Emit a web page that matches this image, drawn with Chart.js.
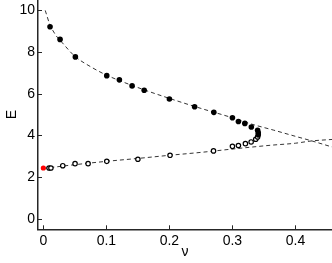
<!DOCTYPE html>
<html>
<head>
<meta charset="utf-8">
<script src="https://cdn.jsdelivr.net/npm/chart.js@4"></script>
<style>
  html, body { margin: 0; padding: 0; background: #fff; }
  #wrap { width: 332px; height: 263px; }
</style>
</head>
<body>
<div id="wrap"><canvas id="myChart"></canvas></div>
<script>
// upper branch (filled dots)
const nuUpper = [0.0106, 0.0265, 0.0508, 0.1006, 0.1206, 0.1408, 0.160, 0.200, 0.240, 0.2705, 0.300, 0.3095, 0.3197, 0.330, 0.340, 0.341, 0.341];
const eUpper = [9.22, 8.61, 7.77, 6.87, 6.67, 6.38, 6.17, 5.75, 5.38, 5.11, 4.85, 4.67, 4.58, 4.41, 4.25, 4.13, 4.03];

// lower branch (open circles)
const nuLower = [0.009, 0.012, 0.0308, 0.0503, 0.071, 0.1006, 0.150, 0.201, 0.270, 0.300, 0.3095, 0.3206, 0.3297, 0.337, 0.340];
const eLower = [2.44, 2.44, 2.55, 2.65, 2.65, 2.76, 2.86, 3.05, 3.26, 3.48, 3.52, 3.61, 3.69, 3.82, 3.93];

// red start point
const nuStart = [0];
const eStart = [2.44];

// dashed fit curves
const nuFitUpper = [0.003, 0.01, 0.02, 0.03, 0.05, 0.075, 0.10, 0.15, 0.20, 0.25, 0.30, 0.33, 0.365, 0.40, 0.426, 0.458];
const eFitUpper = [10.0, 9.35, 8.8, 8.45, 7.8, 7.3, 6.9, 6.3, 5.78, 5.3, 4.85, 4.55, 4.26, 3.96, 3.74, 3.45];
const nuFitLower = [0, 0.05, 0.10, 0.15, 0.20, 0.25, 0.30, 0.36, 0.40, 0.426, 0.458];
const eFitLower = [2.42, 2.6, 2.76, 2.9, 3.05, 3.19, 3.35, 3.53, 3.63, 3.74, 3.81];

const xTicks = [0, 0.1, 0.2, 0.3, 0.4];
const yTicks = [0, 2, 4, 6, 8, 10];

const pts = (xs, ys) => xs.map((x, i) => ({x: x, y: ys[i]}));

const axisColor = '#262626';
const font = {family: 'Liberation Sans, Arial, sans-serif', size: 14};

// MATLAB style inward tick marks
const inwardTicks = {
  id: 'inwardTicks',
  afterDatasetsDraw(chart) {
    const c = chart.ctx;
    const xs = chart.scales.x, ys = chart.scales.y;
    const area = chart.chartArea;
    c.save();
    c.strokeStyle = axisColor;
    c.lineWidth = 1;
    xTicks.forEach(v => {
      const px = Math.round(xs.getPixelForValue(v)) + 0.5;
      c.beginPath();
      c.moveTo(px, area.bottom);
      c.lineTo(px, area.bottom - 4);
      c.stroke();
    });
    yTicks.forEach(v => {
      const py = Math.round(ys.getPixelForValue(v)) + 0.5;
      c.beginPath();
      c.moveTo(area.left, py);
      c.lineTo(area.left + 4, py);
      c.stroke();
    });
    c.restore();
  }
};

// no extra room for the outer tick labels
const noPad = s => {
  s.paddingTop = 0; s.paddingBottom = 0;
  s.paddingLeft = 0; s.paddingRight = 0;
};

const data = {
  datasets: [
    {
      label: 'start',
      data: pts(nuStart, eStart),
      showLine: false,
      pointRadius: 2.6,
      pointBackgroundColor: '#ff0000',
      pointBorderColor: '#ff0000',
      pointBorderWidth: 0,
      order: 0
    },
    {
      label: 'upper',
      data: pts(nuUpper, eUpper),
      showLine: false,
      pointRadius: 2.8,
      pointBackgroundColor: '#000',
      pointBorderColor: '#000',
      pointBorderWidth: 0,
      order: 1
    },
    {
      label: 'lower',
      data: pts(nuLower, eLower),
      showLine: false,
      pointRadius: 2.2,
      pointBackgroundColor: '#fff',
      pointBorderColor: '#000',
      pointBorderWidth: 1.2,
      order: 1
    },
    {
      label: 'fit upper',
      data: pts(nuFitUpper, eFitUpper),
      showLine: true,
      pointRadius: 0,
      borderColor: '#000',
      borderWidth: 0.8,
      borderDash: [4, 3],
      cubicInterpolationMode: 'monotone',
      order: 2
    },
    {
      label: 'fit lower',
      data: pts(nuFitLower, eFitLower),
      showLine: true,
      pointRadius: 0,
      borderColor: '#000',
      borderWidth: 0.8,
      borderDash: [4, 3],
      cubicInterpolationMode: 'monotone',
      order: 2
    }
  ]
};

const config = {
  type: 'scatter',
  data: data,
  options: {
    responsive: true,
    maintainAspectRatio: false,
    animation: false,
    layout: {padding: 0, autoPadding: false},
    plugins: {
      legend: {display: false},
      tooltip: {enabled: false}
    },
    scales: {
      x: {
        type: 'linear',
        min: -0.0085,
        max: 0.458,
        afterBuildTicks: s => { s.ticks = xTicks.map(v => ({value: v})); },
        afterFit: s => { s.height = 33.7; noPad(s); },
        grid: {display: false, drawTicks: false},
        border: {display: true, color: axisColor, width: 1.5},
        ticks: {
          color: '#000',
          font: font,
          padding: 3,
          maxRotation: 0,
          callback: v => String(v)
        },
        title: {
          display: true,
          text: 'ν',
          color: '#000',
          font: font,
          padding: {top: 0, bottom: 2}
        }
      },
      y: {
        type: 'linear',
        min: -0.5,
        max: 10.5,
        afterBuildTicks: s => { s.ticks = yTicks.map(v => ({value: v})); },
        afterFit: s => { s.width = 38; noPad(s); },
        grid: {display: false, drawTicks: false},
        border: {display: true, color: axisColor, width: 1.5},
        ticks: {
          color: '#000',
          font: font,
          padding: 3,
          callback: v => String(v)
        },
        title: {
          display: true,
          text: 'E',
          color: '#000',
          font: font,
          padding: {top: 4, bottom: 0}
        }
      }
    }
  },
  plugins: [inwardTicks]
};

const ctx = document.getElementById('myChart').getContext('2d');
const myChart = new Chart(ctx, config);
</script>
</body>
</html>
